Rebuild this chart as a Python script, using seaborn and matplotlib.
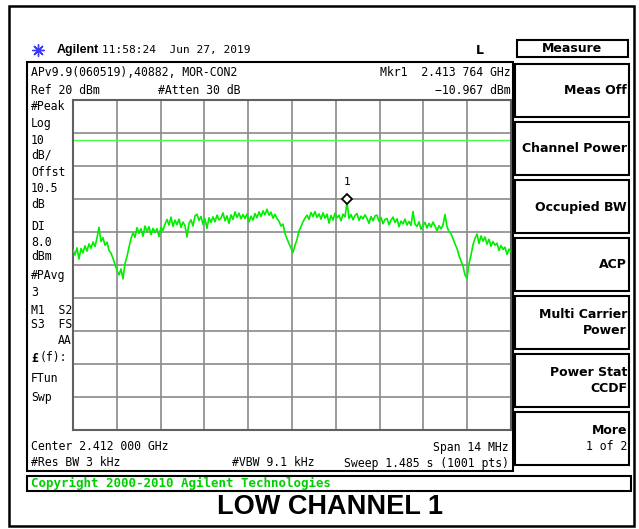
import numpy as np
import pandas as pd
import matplotlib
matplotlib.use("Agg")
import matplotlib.pyplot as plt
import matplotlib.transforms as mtransforms
from matplotlib.patches import Rectangle
import seaborn as sns

# ---------------- data ----------------
center_ghz = 2.412
span_mhz = 14.0
ref_level = 20
db_per_div = 10
display_line = 8.0
mkr_freq = 2.413764
mkr_level = -10.967

trace_dbm = [
    -25.5, -27.0, -24.8, -28.2, -25.0, -26.3, -24.2, -25.8, -23.6, -24.9,
    -23.0, -24.4, -21.8, -18.6, -22.9, -21.7, -24.0, -23.1, -25.6, -26.4,
    -28.0, -29.9, -31.6, -33.0, -31.2, -34.2, -29.5, -27.4, -24.6, -22.0,
    -20.2, -21.6, -18.7, -20.4, -19.0, -21.3, -18.2, -19.9, -18.4, -20.8,
    -18.9, -20.1, -19.0, -21.4, -18.6, -19.5, -17.6, -16.2, -17.9, -15.5,
    -18.3, -16.4, -17.8, -16.1, -18.6, -17.0, -18.1, -21.5, -17.4, -16.3,
    -18.2, -15.1, -14.6, -16.5, -15.3, -17.7, -16.0, -18.9, -15.7, -17.1,
    -15.4, -16.9, -14.9, -16.3, -15.8, -14.2, -16.6, -15.1, -17.4, -14.8,
    -16.2, -13.9, -15.6, -14.3, -16.0, -14.7, -15.9, -14.5, -16.9, -15.2,
    -16.4, -14.4, -15.7, -13.9, -15.3, -13.6, -14.8, -13.1, -14.9, -14.0,
    -15.8, -14.6, -15.9, -16.8, -18.2, -17.6, -20.4, -22.1, -23.5, -24.9,
    -26.2, -24.0, -22.3, -19.6, -18.4, -16.9, -15.8, -14.9, -16.2, -14.1,
    -15.3, -13.8, -15.6, -14.5, -16.1, -14.2, -15.8, -14.6, -17.3, -15.0,
    -16.4, -14.3, -15.7, -14.9, -16.6, -14.6, -15.4, -10.967, -15.9, -14.7,
    -16.3, -15.0, -14.4, -16.5, -15.2, -16.0, -14.8, -15.9, -17.4, -15.3,
    -16.6, -15.1, -14.9, -16.8, -15.6, -17.5, -16.2, -15.9, -17.8, -16.4,
    -15.5, -17.1, -16.0, -18.4, -16.7, -17.5, -16.1, -17.9, -16.8, -18.0,
    -13.8, -17.6, -18.3, -16.9, -19.2, -18.0, -17.1, -18.8, -17.4, -18.5,
    -17.0, -18.2, -19.6, -18.1, -19.0, -17.9, -14.7, -18.4, -19.9, -20.5,
    -22.0, -23.6, -25.0, -27.1, -28.8, -30.4, -33.0, -34.1, -29.6, -27.0,
    -23.8, -22.0, -20.6, -23.5, -21.2, -22.8, -21.5, -23.7, -22.2, -24.3,
    -22.9, -24.0, -23.4, -25.6, -24.1, -25.3, -24.6, -26.8, -25.2, -26.0,
]

left_labels = [
    ("#Peak", 107), ("Log", 123), ("10", 140), ("dB/", 155), ("Offst", 172),
    ("10.5", 188), ("dB", 205), ("DI", 227), ("8.0", 242), ("dBm", 257),
    ("#PAvg", 275), ("3", 293), ("M1  S2", 310), ("S3  FS", 325),
    ("FTun", 378), ("Swp", 397),
]

softkeys = [
    ["Meas Off"], ["Channel Power"], ["Occupied BW"], ["ACP"],
    ["Multi Carrier", "Power"], ["Power Stat", "CCDF"], ["More", "1 of 2"],
]

f_start = center_ghz - span_mhz / 2000.0
f_stop = center_ghz + span_mhz / 2000.0
freq = np.linspace(f_start, f_stop, len(trace_dbm))
df = pd.DataFrame({"freq": freq, "dbm": trace_dbm})

# ---------------- figure ----------------
W, H = 639, 529
fig = plt.figure(figsize=(W / 100, H / 100), dpi=100)
fig.patch.set_facecolor("white")

bg = fig.add_axes([0, 0, 1, 1])
bg.set_xlim(0, W)
bg.set_ylim(H, 0)
bg.axis("off")

MONO = "DejaVu Sans Mono"
SANS = "DejaVu Sans"
KEY_SIZE = 9.0


def box(x0, y0, x1, y1, lw=1.5, color="black"):
    bg.add_patch(Rectangle((x0, y0), x1 - x0, y1 - y0, fill=False,
                           lw=lw, ec=color))


def txt(x, y, s, ha="left", size=8.3, weight="normal", family=MONO,
        color="black"):
    bg.text(x, y, s, ha=ha, va="center", fontsize=size, fontweight=weight,
            family=family, color=color)


# outer border
box(9, 6, 634, 526, lw=1.8)

# header
bg.scatter([38], [50], marker=(8, 2, 0), s=70, color="#3a3aff", lw=1.0)
txt(57, 50, "Agilent", size=9, weight="bold", family="Liberation Sans")
txt(102, 50, "11:58:24  Jun 27, 2019", size=8.0)
txt(480, 50, "L", ha="center", size=9, weight="bold", family=SANS)

# Measure title box
box(517, 40, 628, 57, lw=1.5)
txt(572, 48.5, "Measure", ha="center", size=KEY_SIZE, weight="bold",
    family=SANS)

# screen frame
box(27, 62, 513, 471, lw=1.5)

txt(31, 73, "APv9.9(060519),40882, MOR-CON2")
txt(31, 90, "Ref 20 dBm")
txt(158, 90, "#Atten 30 dB")
txt(511, 73, "Mkr1  2.413 764 GHz", ha="right")
txt(511, 90, "\u221210.967 dBm", ha="right")

for s, y in left_labels:
    txt(31, y, s)
txt(72, 340, "AA", ha="right")
txt(31, 358, "\u00a3", weight="bold")
txt(39.5, 358, "(f):")

txt(31, 447, "Center 2.412 000 GHz")
txt(509, 447, "Span 14 MHz", ha="right")
txt(31, 463, "#Res BW 3 kHz")
txt(232, 463, "#VBW 9.1 kHz")
txt(509, 463, "Sweep 1.485 s (1001 pts)", ha="right")

# softkeys
for k, lines in enumerate(softkeys):
    top = 64 + 58 * k
    box(515, top, 629, top + 53, lw=1.5)
    if len(lines) == 1:
        txt(627, top + 27, lines[0], ha="right", size=KEY_SIZE,
            weight="bold", family=SANS)
    else:
        txt(627, top + 18, lines[0], ha="right", size=KEY_SIZE,
            weight="bold", family=SANS)
        if lines[1] == "1 of 2":
            txt(627, top + 34, lines[1], ha="right", size=8.3)
        else:
            txt(627, top + 34, lines[1], ha="right", size=KEY_SIZE,
                weight="bold", family=SANS)

# copyright bar
box(27, 476, 631, 491, lw=1.5)
txt(31, 483.5, "Copyright 2000-2010 Agilent Technologies", size=9.0,
    weight="bold", color="#00d000")

# caption
txt(330, 507, "LOW CHANNEL 1", ha="center", size=19.5, weight="bold",
    family="Liberation Sans")

# ---------------- trace axes ----------------
ax = fig.add_axes([73 / W, 1 - 430 / H, 438 / W, 330 / H])
ax.set_facecolor("white")
sns.lineplot(data=df, x="freq", y="dbm", ax=ax, color="#00ee00", lw=1.2,
             estimator=None, zorder=3)
ax.set_xlim(f_start, f_stop)
ax.set_ylim(ref_level - 10 * db_per_div, ref_level)
ax.set_xticks(np.linspace(f_start, f_stop, 11))
ax.set_yticks(np.arange(ref_level - 10 * db_per_div, ref_level + 1, db_per_div))
ax.grid(True, color="#8a8a8a", lw=1.2, zorder=1)
ax.set_axisbelow(True)
ax.tick_params(length=0, labelbottom=False, labelleft=False)
ax.set_xlabel("")
ax.set_ylabel("")
for sp in ax.spines.values():
    sp.set_color("#606060")
    sp.set_linewidth(1.5)

ax.axhline(display_line, color="#44ff44", lw=1.0, zorder=2)

up = mtransforms.offset_copy(ax.transData, fig=fig, x=0, y=3, units="dots")
ax.plot([mkr_freq], [mkr_level], marker="D", ms=5, mfc="white", mec="black",
        mew=1.3, transform=up, zorder=6, ls="none")
ax.annotate("1", xy=(mkr_freq, mkr_level), xytext=(0, 11),
            textcoords="offset points", ha="center", va="bottom",
            fontsize=8, family=MONO, zorder=6)

fig.savefig("out.png", dpi=100)
